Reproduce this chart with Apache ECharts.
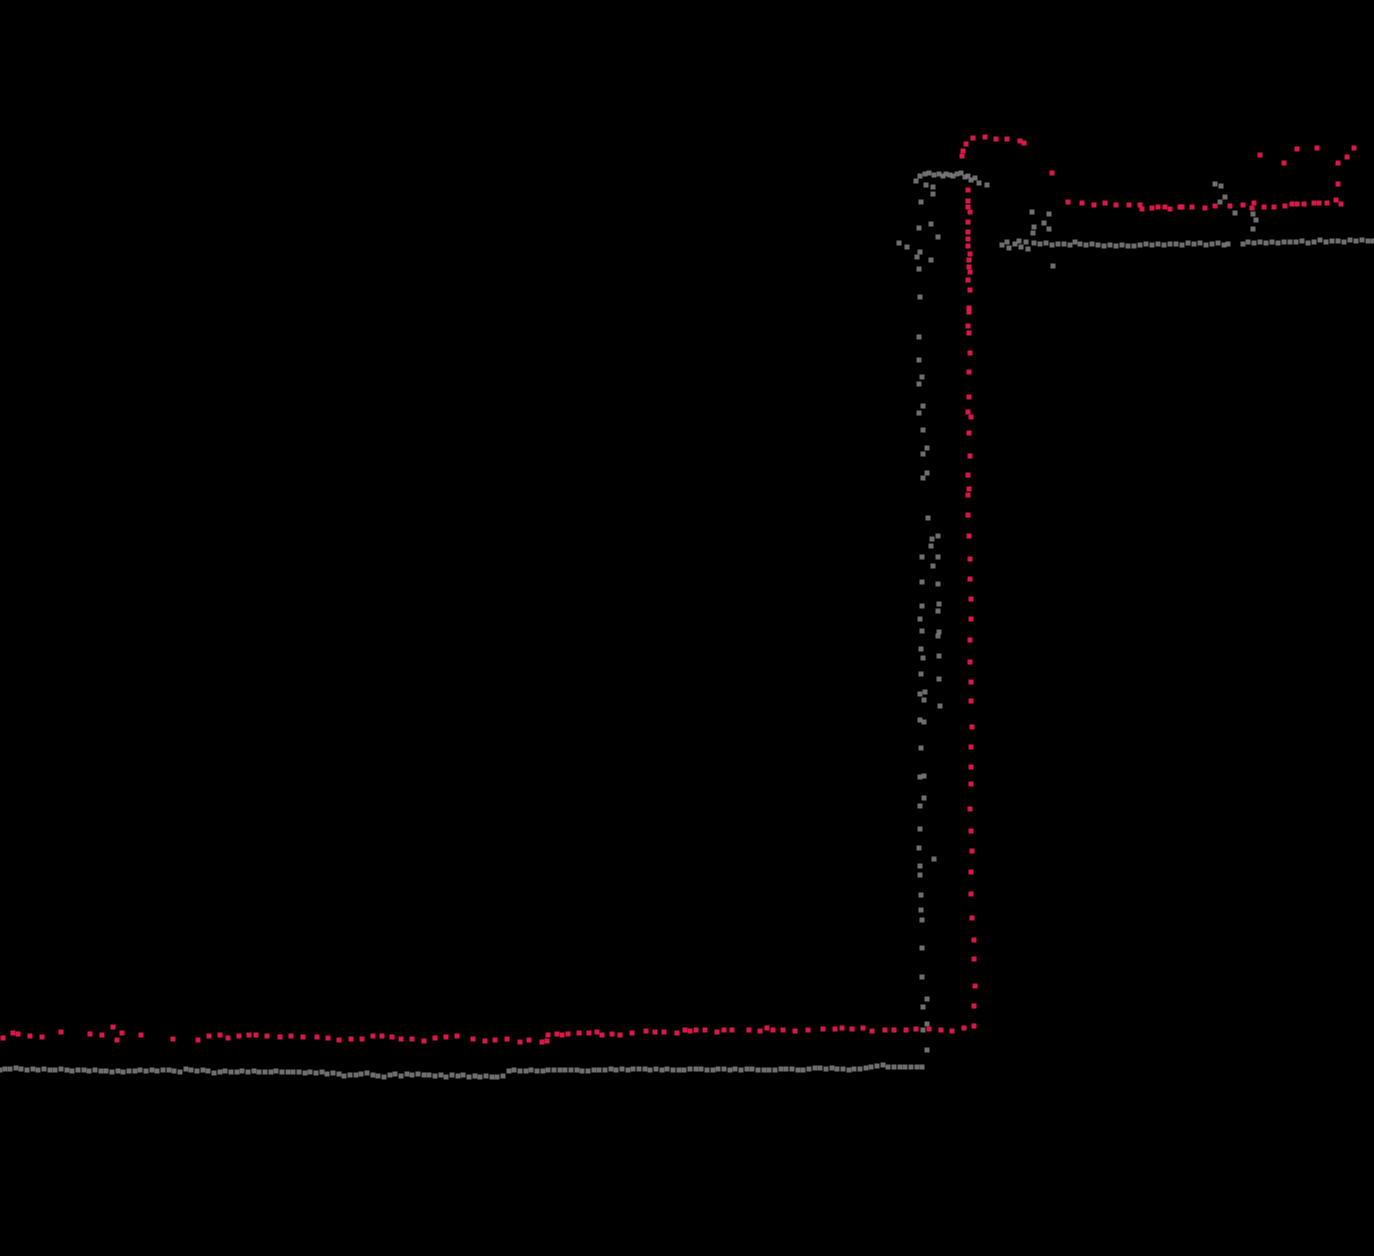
<!DOCTYPE html>
<html>
<head>
<meta charset="utf-8">
<script src="https://cdn.jsdelivr.net/npm/echarts@6/dist/echarts.min.js"></script>
<style>html,body{margin:0;padding:0;background:#000;}#chart{width:1374px;height:1256px;}</style>
</head>
<body>
<div id="chart"></div>
<script>
// Values (x: horizontal position, y: vertical position, axis inverted)
const grayBase = [[0,1070],[5,1069],[10,1069],[16,1068],[21,1069],[27,1070],[33,1069],[38,1070],[44,1069],[50,1070],[55,1070],[61,1069],[67,1070],[72,1071],[78,1070],[84,1070],[89,1071],[95,1070],[101,1071],[106,1071],[112,1072],[118,1071],[123,1072],[129,1071],[135,1071],[140,1070],[146,1071],[152,1070],[157,1071],[163,1070],[169,1070],[174,1071],[180,1072],[186,1069],[191,1070],[197,1071],[203,1070],[208,1071],[214,1073],[220,1072],[225,1071],[231,1072],[237,1072],[242,1071],[248,1072],[254,1071],[259,1072],[265,1072],[271,1072],[276,1071],[282,1072],[288,1072],[293,1072],[299,1072],[305,1073],[310,1072],[316,1073],[322,1072],[327,1074],[333,1073],[339,1074],[344,1076],[350,1075],[356,1075],[361,1074],[367,1073],[373,1075],[378,1076],[384,1077],[390,1075],[395,1074],[401,1076],[407,1074],[412,1075],[418,1074],[424,1075],[429,1075],[435,1076],[441,1075],[446,1077],[452,1075],[458,1076],[463,1075],[469,1077],[475,1076],[480,1077],[486,1076],[492,1077],[497,1077],[503,1076],[509,1071],[514,1070],[520,1071],[526,1071],[531,1070],[537,1071],[543,1071],[548,1070],[554,1070],[560,1070],[565,1070],[571,1070],[577,1070],[582,1071],[588,1071],[594,1070],[599,1070],[605,1070],[611,1069],[616,1070],[622,1069],[628,1070],[633,1069],[639,1069],[645,1069],[650,1070],[656,1069],[662,1070],[667,1069],[673,1070],[679,1070],[684,1070],[690,1069],[696,1069],[701,1069],[707,1070],[713,1070],[718,1069],[724,1069],[730,1070],[735,1069],[741,1070],[747,1069],[752,1069],[758,1070],[764,1070],[769,1070],[775,1070],[781,1069],[786,1069],[792,1069],[798,1070],[803,1070],[809,1069],[815,1068],[820,1068],[826,1069],[832,1068],[837,1069],[843,1069],[849,1070],[854,1069],[860,1069],[866,1068],[871,1067],[877,1066],[883,1065],[888,1067],[894,1067],[900,1067],[905,1067],[911,1067],[917,1067],[922,1067]];
const grayRise = [[927,1050],[923,1030],[927,1024],[923,1007],[927,999],[922,977],[922,948],[922,920],[921,910],[921,895],[920,875],[920,866],[934,859],[919,848],[920,829],[920,806],[924,798],[920,777],[924,776],[921,748],[924,722],[920,720],[940,706],[924,700],[920,694],[925,692],[939,679],[921,674],[923,658],[939,656],[921,649],[938,636],[939,632],[922,631],[920,619],[938,611],[922,606],[939,604],[938,584],[922,582],[933,566],[922,557],[938,557],[931,546],[932,539],[938,536],[928,518],[923,478],[927,473],[923,454],[927,448],[923,430],[919,413],[923,406],[919,384],[922,377],[919,360],[919,337],[920,297],[919,269],[931,260],[917,257],[920,252],[907,247],[899,243],[938,237],[919,228],[931,224],[921,202],[933,194],[933,187],[926,185]];
const grayTop = [[916,181],[920,176],[925,174],[929,173],[934,175],[939,174],[943,176],[946,174],[950,175],[953,176],[957,174],[961,173],[965,177],[968,176],[971,180],[975,178],[979,183],[987,185]];
const grayScatter = [[1032,212],[1049,214],[1044,223],[1034,227],[1049,229],[1033,233],[1053,266],[1215,184],[1221,186],[1225,197],[1220,202],[1235,213],[1253,214],[1256,220],[1253,229]];
const grayPlateau = [[1002,245],[1007,242],[1009,248],[1015,244],[1019,241],[1021,247],[1026,242],[1028,249],[1034,243],[1040,244],[1046,243],[1052,245],[1058,244],[1064,244],[1070,245],[1075,242],[1080,244],[1086,245],[1092,244],[1098,245],[1104,246],[1110,245],[1116,246],[1122,245],[1128,246],[1134,246],[1140,245],[1146,244],[1152,245],[1158,244],[1164,245],[1170,244],[1176,244],[1182,245],[1188,243],[1194,244],[1200,243],[1206,245],[1212,244],[1218,243],[1224,245],[1228,244],[1243,244],[1248,242],[1254,243],[1260,242],[1266,243],[1272,242],[1278,243],[1284,242],[1290,242],[1296,242],[1302,241],[1308,243],[1314,242],[1320,240],[1326,242],[1332,241],[1338,241],[1344,242],[1350,240],[1356,241],[1362,240],[1368,241],[1373,241]];

const redBase = [[3,1038],[13,1033],[18,1034],[30,1036],[42,1037],[61,1032],[90,1034],[102,1035],[113,1027],[117,1040],[122,1033],[141,1035],[173,1039],[198,1040],[209,1036],[220,1035],[228,1038],[239,1036],[249,1035],[256,1035],[267,1036],[280,1037],[291,1036],[303,1037],[317,1037],[328,1038],[339,1040],[351,1039],[362,1039],[373,1036],[382,1036],[392,1037],[401,1039],[412,1039],[424,1041],[435,1038],[446,1037],[457,1036],[473,1039],[485,1041],[495,1040],[507,1039],[520,1042],[529,1040],[542,1042],[547,1041],[548,1035],[557,1034],[562,1035],[568,1034],[579,1033],[589,1033],[597,1032],[602,1035],[612,1034],[620,1035],[632,1033],[646,1031],[655,1032],[664,1032],[677,1033],[685,1030],[690,1031],[696,1030],[705,1030],[717,1032],[724,1030],[732,1030],[749,1030],[760,1031],[767,1028],[773,1030],[783,1030],[795,1031],[808,1030],[823,1029],[835,1029],[842,1028],[852,1029],[863,1028],[872,1031],[885,1030],[894,1030],[906,1030],[916,1029],[929,1029],[941,1030],[952,1031],[964,1028]];
const redRise = [[974,1026],[974,1006],[975,986],[974,959],[974,940],[972,918],[971,894],[971,872],[972,851],[971,831],[970,809],[971,784],[971,767],[971,747],[972,727],[971,701],[971,682],[970,662],[970,640],[971,619],[971,599],[970,579],[970,559],[969,536],[968,515],[968,495],[969,489],[968,475],[970,456],[969,433],[971,417],[968,412],[969,397],[969,372],[970,353],[969,333],[968,326],[969,312],[969,308],[970,290],[968,280],[970,272],[969,267],[969,260],[970,254],[968,246],[968,239],[968,232],[968,222],[970,212],[968,207],[968,201],[968,190]];
const redTop = [[962,156],[963,151],[966,144],[973,138],[985,137],[996,139],[1007,139],[1020,141],[1024,143],[1052,173]];
const redPlateau = [[1068,202],[1082,203],[1094,205],[1105,203],[1116,205],[1129,205],[1140,205],[1142,209],[1152,208],[1158,207],[1165,207],[1170,209],[1180,207],[1182,207],[1192,207],[1205,208],[1215,206],[1230,206],[1243,205],[1252,208],[1254,203],[1264,207],[1274,207],[1285,206],[1292,204],[1297,204],[1304,204],[1314,203],[1319,203],[1327,203],[1336,200],[1341,204]];
const redScatter = [[1260,155],[1284,163],[1297,149],[1317,148],[1338,163],[1347,157],[1354,148],[1338,184]];

const grayData = [].concat(grayBase, grayRise, grayTop, grayScatter, grayPlateau);
const redData = [].concat(redBase, redRise, redTop, redPlateau, redScatter);

const chart = echarts.init(document.getElementById('chart'));
chart.setOption({
  backgroundColor: '#000000',
  animation: false,
  grid: { left: 0, right: 0, top: 0, bottom: 0 },
  xAxis: { type: 'value', min: 0, max: 1374, show: false },
  yAxis: { type: 'value', min: 0, max: 1256, inverse: true, show: false },
  series: [
    { type: 'scatter', data: grayData, symbol: 'rect', symbolSize: 5,
      itemStyle: { color: '#7a7a7a', opacity: 0.9 } },
    { type: 'scatter', data: redData, symbol: 'rect', symbolSize: 5,
      itemStyle: { color: '#e6194b', opacity: 0.95 } }
  ]
});
</script>
</body>
</html>
